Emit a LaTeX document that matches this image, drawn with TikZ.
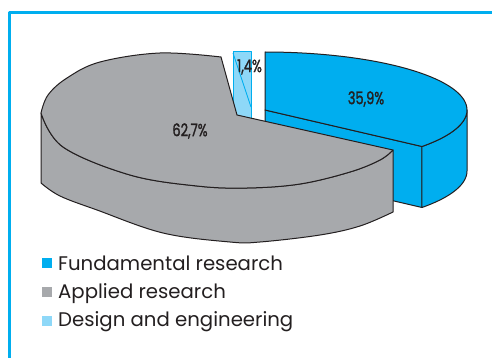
\documentclass[tikz,border=0pt]{standalone}
\usepackage{fontspec}
\setmainfont{Poppins}
\newfontfamily\labelfont[FakeStretch=0.74,FakeBold=1.4]{Poppins}
\definecolor{cyanB}{HTML}{00AEEF}
\definecolor{grayS}{HTML}{A7A9AC}
\definecolor{lightB}{HTML}{8ED8F8}
\definecolor{ink}{HTML}{231F20}
\begin{document}
\begin{tikzpicture}[x=1pt,y=-1pt,line join=round,
  edge/.style={draw=ink,line width=1pt},
  bluepart/.style={edge,fill=cyanB},
  graypart/.style={edge,fill=grayS},
  pct/.style={font=\labelfont\fontsize{17.5}{20}\selectfont,text=ink,inner sep=0pt},
  legtext/.style={font=\fontsize{19.7}{24}\selectfont,text=ink,anchor=base west,inner sep=0pt},
  legbox/.style={minimum size=10pt,inner sep=0pt}]
\useasboundingbox (0,0) rectangle (492,358);
\fill[white] (0,0) rectangle (492,358);
% frame
\draw[cyanB,line width=3pt] (9,358) -- (9,13) -- (492,13);
% blue slice (35,9%)
\path[bluepart] (265,110) -- (422,146.5) -- (422,207.5) -- (265,171) -- cycle;
\path[bluepart] plot[domain=0:-39,samples=30] ({265+202*cos(\x)},{110-58*sin(\x)})
  -- plot[domain=-39:0,samples=30] ({265+202*cos(\x)},{171-58*sin(\x)}) -- cycle;
\path[bluepart] (265,110) -- plot[domain=90:-39,samples=80] ({265+202*cos(\x)},{110-58*sin(\x)}) -- cycle;
% light blue slice (1,4%)
\path[draw=cyanB,fill=lightB,line width=0.8pt] (233,51) rectangle (251,118);
\draw[cyanB,line width=0.8pt] (233,53) -- (251,107);
% gray slice (62,7%)
\path[graypart] plot[smooth,tension=0.6] coordinates {(41,113) (63,147) (130,175) (197,186) (247,188) (300,184) (350,172) (380,160) (393,150)}
  -- (393,212)
  -- plot[smooth,tension=0.6] coordinates {(393,212) (360,226) (320,235) (260,242) (230,242) (163,233) (97,210) (60,196) (41,183)}
  -- cycle;
\path[graypart] (237,115) -- (221,57)
  -- plot[smooth,tension=0.6] coordinates {(221,57) (160,53) (100,62) (67,78) (48,95) (41,113)}
  -- plot[smooth,tension=0.6] coordinates {(41,113) (63,147) (130,175) (197,186) (247,188) (300,184) (350,172) (380,160) (393,150)}
  -- cycle;
% labels
\node[pct] (lg) at (190,131) {62,7\%};
\node[pct] (lb) at (366,99) {35,9\%};
\node[pct] (ll) at (249.5,67) {1,4\%};
% legend
\node[legbox,fill=cyanB] (k1) at (47,263) {};
\node[legbox,fill=grayS] (k2) at (47,292) {};
\node[legbox,fill=lightB] (k3) at (47,320.5) {};
\node[legtext] (t1) at (58,270) {Fundamental research};
\node[legtext] (t2) at (58,298) {Applied research};
\node[legtext] (t3) at (58,326) {Design and engineering};
\end{tikzpicture}
\end{document}
